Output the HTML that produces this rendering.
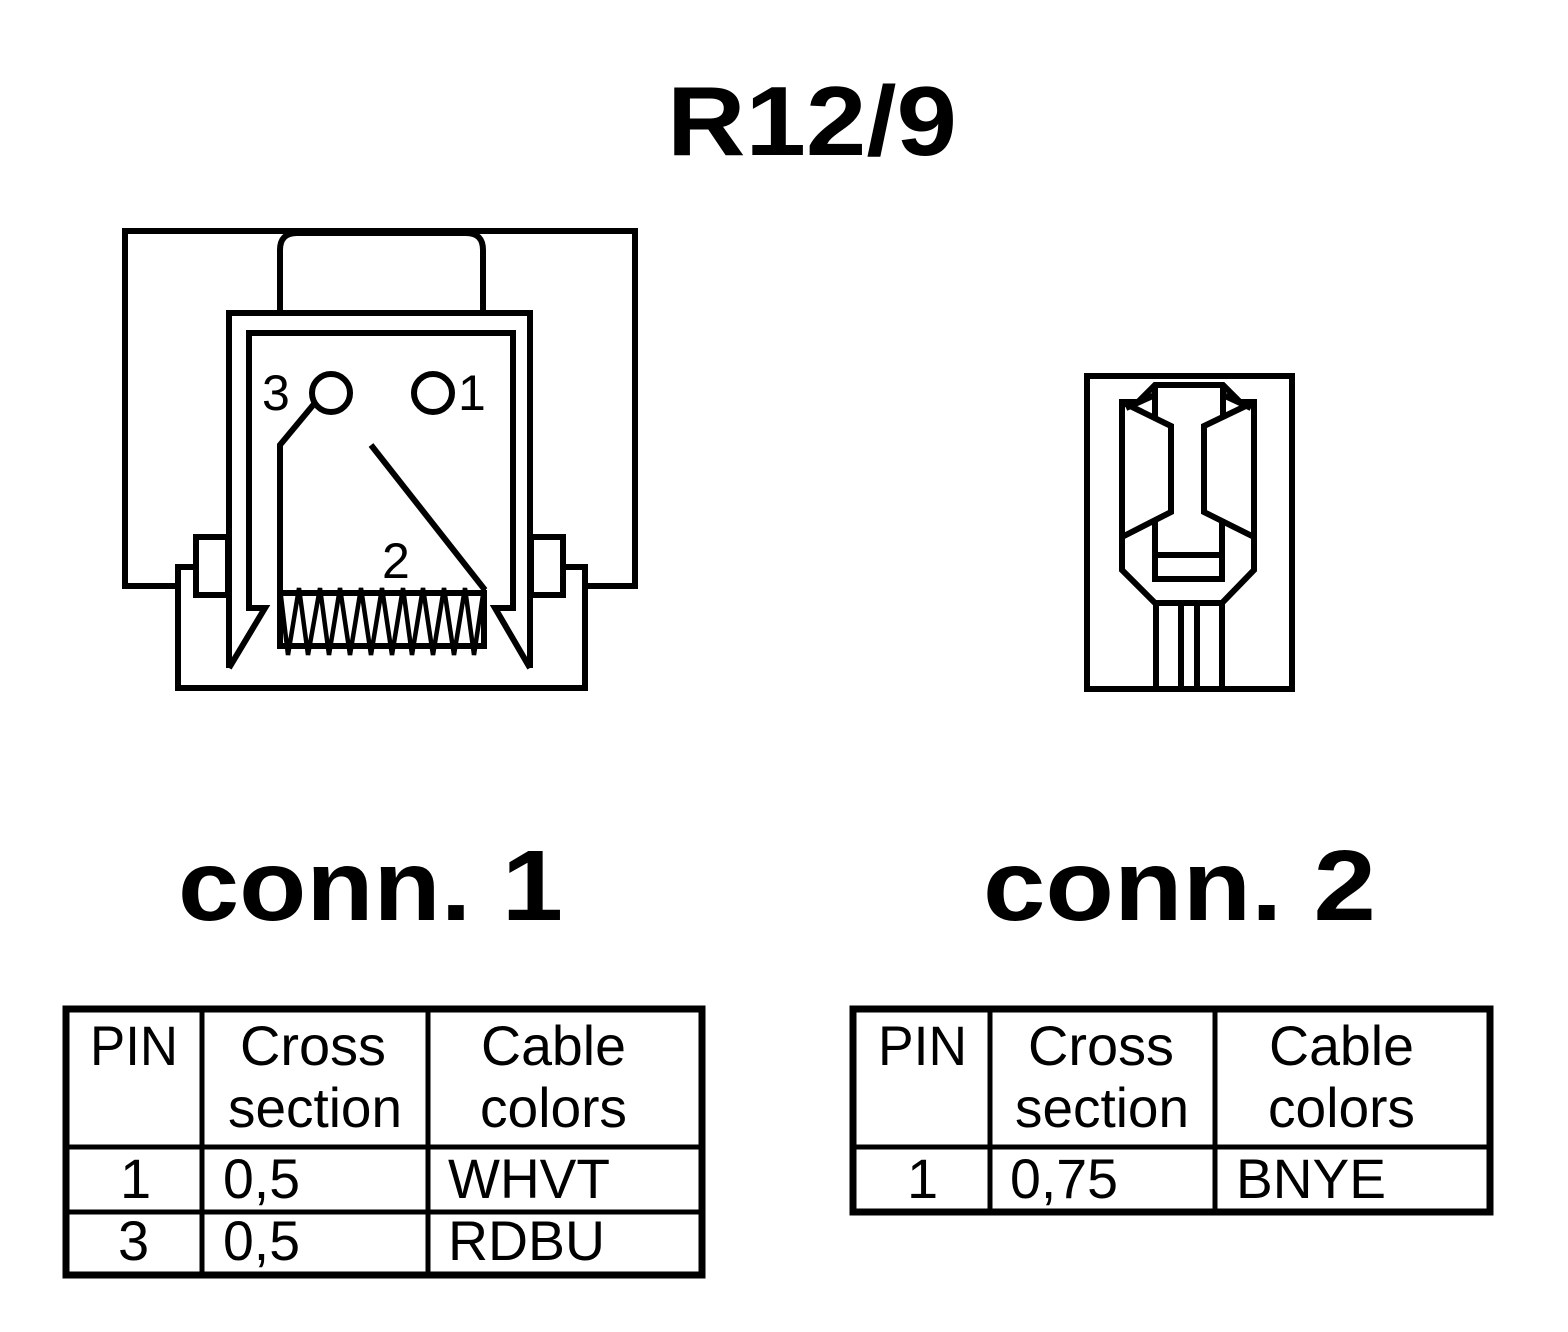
<!DOCTYPE html>
<html><head><meta charset="utf-8"><style>html,body{margin:0;padding:0;background:#fff}svg{display:block}</style></head>
<body>
<svg width="1568" height="1332" viewBox="0 0 1568 1332" xmlns="http://www.w3.org/2000/svg" font-family="Liberation Sans, Arial, sans-serif">
<rect width="1568" height="1332" fill="#fff"/>
<text x="667" y="155" font-size="98" font-weight="bold" textLength="290" lengthAdjust="spacingAndGlyphs">R12/9</text>

<g fill="none" stroke="#000" stroke-width="6" stroke-linejoin="miter">
<polyline points="178,586 125,586 125,231 635,231 635,586 585,586"/>
<path d="M280,312 V250 Q280,233 297,233 H466 Q483,233 483,250 V312"/>
<polyline points="229,668 229,313 530,313 530,668"/>
<polyline points="229,668 265,608 249,608 249,333 513,333 513,608 495,608 530,668"/>
<rect x="196" y="537" width="32" height="58"/>
<rect x="531" y="537" width="32" height="58"/>
<polyline points="196,567 178,567 178,688 585,688 585,567 563,567"/>
<circle cx="331" cy="393" r="19"/>
<circle cx="433" cy="393" r="19"/>
<polyline points="314,404 280,445 280,592"/>
<line x1="371" y1="445" x2="485" y2="590"/>
<rect x="280" y="593" width="204" height="53"/>
<polyline stroke-width="4.5" points="280,588 288,655 299,588 308,655 320,588 329,655 340,588 350,655 361,588 371,655 382,588 392,655 403,588 412,655 423,588 433,655 444,588 454,655 465,588 474,655 484,588"/>
</g>
<text x="262" y="410" font-size="50">3</text>
<text x="458" y="410" font-size="50">1</text>
<text x="382" y="578" font-size="50">2</text>

<g fill="none" stroke="#000" stroke-width="6">
<rect x="1087" y="376" width="205" height="313" stroke-width="6"/>
<polygon points="1155,385 1223,385 1240,402 1254,402 1254,570 1222,603 1155,603 1122,570 1122,402 1138,402"/>
<polyline points="1122,402 1171,426 1171,512 1122,537"/>
<polyline points="1254,402 1204,426 1204,512 1254,537"/>
<polyline points="1155,385 1155,418"/>
<polyline points="1223,385 1223,418"/>
<polyline points="1126,408 1155,395"/>
<polyline points="1251,408 1223,395"/>
<polyline points="1155,519 1155,579 1222,579 1222,519"/>
<line x1="1155" y1="555" x2="1222" y2="555"/>
<line x1="1156" y1="603" x2="1156" y2="689"/>
<line x1="1181" y1="603" x2="1181" y2="689"/>
<line x1="1197" y1="603" x2="1197" y2="689"/>
<line x1="1222" y1="603" x2="1222" y2="689"/>
</g>

<text x="178" y="920" font-size="100" font-weight="bold" textLength="385" lengthAdjust="spacingAndGlyphs">conn. 1</text>
<text x="983" y="920" font-size="100" font-weight="bold" textLength="393" lengthAdjust="spacingAndGlyphs">conn. 2</text>

<g fill="none" stroke="#000">
<rect x="66" y="1009" width="636" height="266" stroke-width="7"/>
<line x1="202" y1="1009" x2="202" y2="1275" stroke-width="5"/>
<line x1="428" y1="1009" x2="428" y2="1275" stroke-width="5"/>
<line x1="66" y1="1147" x2="702" y2="1147" stroke-width="5"/>
<line x1="66" y1="1212" x2="702" y2="1212" stroke-width="5"/>
</g>
<g font-size="56">
<text x="90" y="1065" textLength="88" lengthAdjust="spacingAndGlyphs">PIN</text>
<text x="240" y="1065" textLength="146" lengthAdjust="spacingAndGlyphs">Cross</text>
<text x="228" y="1127" textLength="174" lengthAdjust="spacingAndGlyphs">section</text>
<text x="481" y="1065" textLength="145" lengthAdjust="spacingAndGlyphs">Cable</text>
<text x="480" y="1127" textLength="147" lengthAdjust="spacingAndGlyphs">colors</text>
<text x="120" y="1198">1</text>
<text x="223" y="1198" textLength="77" lengthAdjust="spacingAndGlyphs">0,5</text>
<text x="448" y="1198" textLength="162" lengthAdjust="spacingAndGlyphs">WHVT</text>
<text x="118" y="1260">3</text>
<text x="223" y="1260" textLength="77" lengthAdjust="spacingAndGlyphs">0,5</text>
<text x="448" y="1260" textLength="157" lengthAdjust="spacingAndGlyphs">RDBU</text>
</g>

<g fill="none" stroke="#000">
<rect x="853" y="1009" width="637" height="203" stroke-width="7"/>
<line x1="990" y1="1009" x2="990" y2="1212" stroke-width="5"/>
<line x1="1215" y1="1009" x2="1215" y2="1212" stroke-width="5"/>
<line x1="853" y1="1147" x2="1490" y2="1147" stroke-width="5"/>
</g>
<g font-size="56">
<text x="878" y="1065" textLength="89" lengthAdjust="spacingAndGlyphs">PIN</text>
<text x="1028" y="1065" textLength="146" lengthAdjust="spacingAndGlyphs">Cross</text>
<text x="1015" y="1127" textLength="174" lengthAdjust="spacingAndGlyphs">section</text>
<text x="1269" y="1065" textLength="145" lengthAdjust="spacingAndGlyphs">Cable</text>
<text x="1268" y="1127" textLength="147" lengthAdjust="spacingAndGlyphs">colors</text>
<text x="907" y="1198">1</text>
<text x="1010" y="1198" textLength="108" lengthAdjust="spacingAndGlyphs">0,75</text>
<text x="1236" y="1198" textLength="150" lengthAdjust="spacingAndGlyphs">BNYE</text>
</g>
</svg>
</body></html>
